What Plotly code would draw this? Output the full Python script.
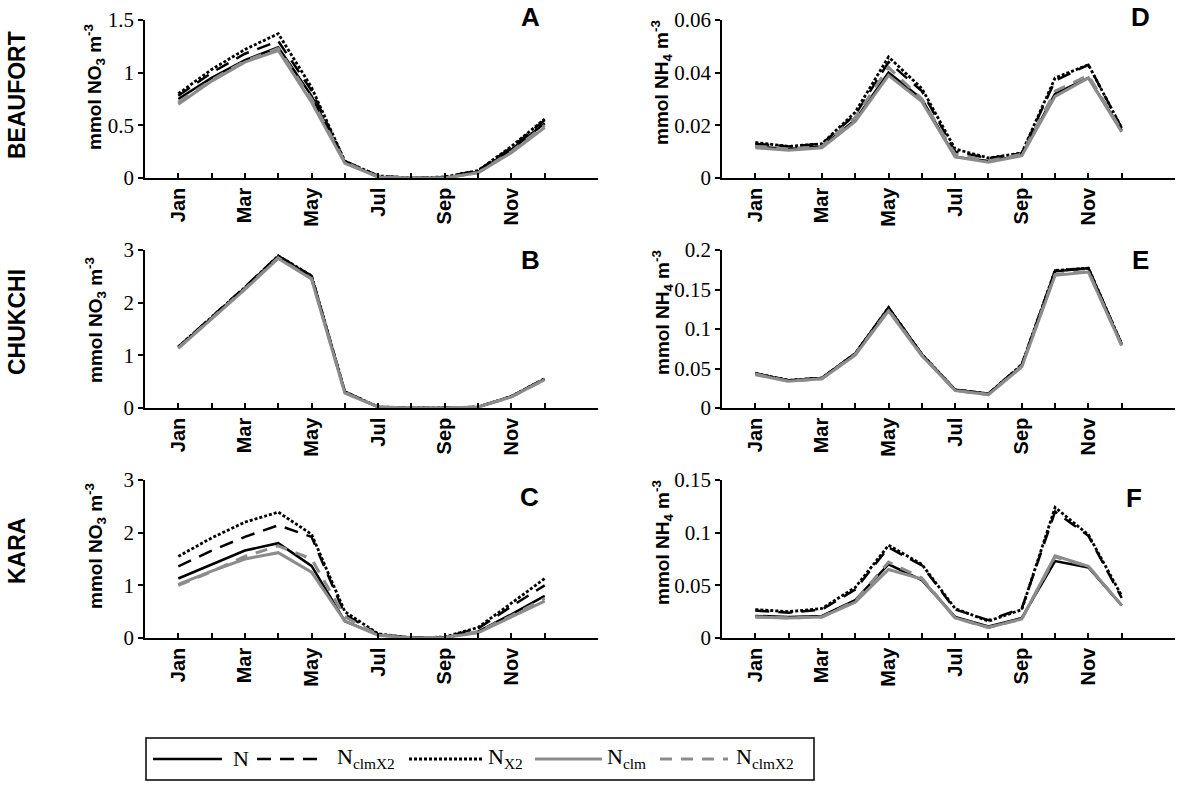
import plotly.graph_objects as go

# months on the x axis, only odd months get a label
months = [1, 2, 3, 4, 5, 6, 7, 8, 9, 10, 11, 12]
month_labels = ["Jan", "", "Mar", "", "May", "", "Jul", "", "Sep", "", "Nov", ""]

series_names = ["N", "N<sub>clmX2</sub>", "N<sub>X2</sub>", "N<sub>clm</sub>", "N<sub>clmX2</sub>"]

# A - Beaufort NO3
beaufort_no3_n = [0.75, 0.95, 1.12, 1.24, 0.78, 0.15, 0.01, 0.0, 0.0, 0.06, 0.27, 0.52]
beaufort_no3_clmx2 = [0.78, 1.00, 1.18, 1.30, 0.83, 0.16, 0.02, 0.0, 0.01, 0.07, 0.29, 0.55]
beaufort_no3_x2 = [0.80, 1.03, 1.22, 1.37, 0.86, 0.16, 0.02, 0.0, 0.01, 0.07, 0.30, 0.56]
beaufort_no3_clm = [0.70, 0.92, 1.10, 1.21, 0.72, 0.14, 0.01, 0.0, 0.0, 0.05, 0.24, 0.48]
beaufort_no3_clmx2_g = [0.72, 0.93, 1.11, 1.23, 0.75, 0.15, 0.01, 0.0, 0.0, 0.05, 0.25, 0.50]

# B - Chukchi NO3
chukchi_no3_n = [1.15, 1.72, 2.28, 2.88, 2.50, 0.30, 0.02, 0.0, 0.0, 0.02, 0.22, 0.55]
chukchi_no3_clmx2 = [1.16, 1.73, 2.30, 2.89, 2.51, 0.31, 0.02, 0.0, 0.0, 0.02, 0.22, 0.56]
chukchi_no3_x2 = [1.16, 1.73, 2.29, 2.89, 2.51, 0.31, 0.02, 0.0, 0.0, 0.02, 0.22, 0.56]
chukchi_no3_clm = [1.13, 1.69, 2.25, 2.84, 2.45, 0.28, 0.02, 0.0, 0.0, 0.02, 0.21, 0.54]
chukchi_no3_clmx2_g = [1.14, 1.70, 2.26, 2.85, 2.46, 0.29, 0.02, 0.0, 0.0, 0.02, 0.21, 0.54]

# C - Kara NO3
kara_no3_n = [1.13, 1.40, 1.66, 1.80, 1.37, 0.32, 0.06, 0.01, 0.01, 0.12, 0.45, 0.80]
kara_no3_clmx2 = [1.36, 1.66, 1.92, 2.14, 1.92, 0.45, 0.07, 0.0, 0.02, 0.18, 0.60, 1.00]
kara_no3_x2 = [1.55, 1.90, 2.20, 2.39, 1.97, 0.50, 0.08, 0.0, 0.02, 0.20, 0.66, 1.13]
kara_no3_clm = [1.02, 1.27, 1.50, 1.62, 1.25, 0.32, 0.05, 0.0, 0.01, 0.10, 0.40, 0.70]
kara_no3_clmx2_g = [1.00, 1.26, 1.55, 1.75, 1.50, 0.40, 0.06, 0.0, 0.01, 0.12, 0.42, 0.75]

# D - Beaufort NH4
beaufort_nh4_n = [0.012, 0.011, 0.012, 0.022, 0.040, 0.030, 0.008, 0.0065, 0.0085, 0.032, 0.038, 0.018]
beaufort_nh4_clmx2 = [0.013, 0.012, 0.013, 0.024, 0.044, 0.033, 0.010, 0.0075, 0.0094, 0.037, 0.043, 0.019]
beaufort_nh4_x2 = [0.0135, 0.012, 0.013, 0.025, 0.046, 0.034, 0.011, 0.0076, 0.0095, 0.038, 0.043, 0.019]
beaufort_nh4_clm = [0.0115, 0.0105, 0.0115, 0.0215, 0.039, 0.029, 0.008, 0.006, 0.0085, 0.031, 0.038, 0.0175]
beaufort_nh4_clmx2_g = [0.012, 0.011, 0.012, 0.023, 0.042, 0.030, 0.009, 0.0065, 0.009, 0.033, 0.039, 0.018]

# E - Chukchi NH4
chukchi_nh4_n = [0.043, 0.035, 0.038, 0.069, 0.127, 0.068, 0.023, 0.018, 0.054, 0.173, 0.177, 0.080]
chukchi_nh4_clmx2 = [0.044, 0.035, 0.038, 0.069, 0.127, 0.068, 0.023, 0.018, 0.055, 0.174, 0.177, 0.081]
chukchi_nh4_x2 = [0.044, 0.035, 0.038, 0.069, 0.127, 0.068, 0.023, 0.018, 0.055, 0.174, 0.177, 0.081]
chukchi_nh4_clm = [0.042, 0.034, 0.037, 0.067, 0.123, 0.066, 0.022, 0.017, 0.052, 0.168, 0.172, 0.079]
chukchi_nh4_clmx2_g = [0.043, 0.034, 0.037, 0.068, 0.124, 0.067, 0.022, 0.017, 0.053, 0.169, 0.173, 0.079]

# F - Kara NH4
kara_nh4_n = [0.021, 0.020, 0.021, 0.036, 0.070, 0.055, 0.020, 0.011, 0.019, 0.073, 0.067, 0.031]
kara_nh4_clmx2 = [0.026, 0.024, 0.027, 0.046, 0.086, 0.069, 0.027, 0.017, 0.028, 0.120, 0.097, 0.038]
kara_nh4_x2 = [0.027, 0.025, 0.028, 0.048, 0.088, 0.070, 0.028, 0.016, 0.027, 0.124, 0.098, 0.040]
kara_nh4_clm = [0.020, 0.019, 0.020, 0.034, 0.065, 0.056, 0.019, 0.010, 0.018, 0.078, 0.068, 0.031]
kara_nh4_clmx2_g = [0.020, 0.019, 0.020, 0.035, 0.072, 0.057, 0.019, 0.010, 0.018, 0.077, 0.068, 0.031]

panels = [
    ("", [beaufort_no3_n, beaufort_no3_clmx2, beaufort_no3_x2, beaufort_no3_clm, beaufort_no3_clmx2_g], 1.5, 0.5),
    ("2", [chukchi_no3_n, chukchi_no3_clmx2, chukchi_no3_x2, chukchi_no3_clm, chukchi_no3_clmx2_g], 3, 1),
    ("3", [kara_no3_n, kara_no3_clmx2, kara_no3_x2, kara_no3_clm, kara_no3_clmx2_g], 3, 1),
    ("4", [beaufort_nh4_n, beaufort_nh4_clmx2, beaufort_nh4_x2, beaufort_nh4_clm, beaufort_nh4_clmx2_g], 0.06, 0.02),
    ("5", [chukchi_nh4_n, chukchi_nh4_clmx2, chukchi_nh4_x2, chukchi_nh4_clm, chukchi_nh4_clmx2_g], 0.2, 0.05),
    ("6", [kara_nh4_n, kara_nh4_clmx2, kara_nh4_x2, kara_nh4_clm, kara_nh4_clmx2_g], 0.15, 0.05),
]

line_styles = [
    dict(color="black", width=2.5, dash="solid"),
    dict(color="black", width=2.5, dash="14px,9px"),
    dict(color="black", width=2.8, dash="3px,2px"),
    dict(color="#8c8c8c", width=3, dash="solid"),
    dict(color="#8c8c8c", width=3, dash="12px,9px"),
]

W, H = 1181, 785
left_x = (145 / W, 598 / W)
right_x = (722 / W, 1175 / W)
rows_y = [(1 - 178 / H, 1 - 20 / H), (1 - 408 / H, 1 - 250 / H), (1 - 638 / H, 1 - 480 / H)]

sans_bold = dict(family="Liberation Sans, Arial", color="black", weight="bold")
serif = "Liberation Serif, Times New Roman, serif"

fig = go.Figure()

for i, (suffix, series, ymax, dtick) in enumerate(panels):
    for j, vals in enumerate(series):
        fig.add_trace(go.Scatter(x=months, y=vals, mode="lines", name=series_names[j],
                                 line=line_styles[j], showlegend=False,
                                 xaxis="x" + suffix, yaxis="y" + suffix))
    xdom = left_x if i < 3 else right_x
    ydom = rows_y[i % 3]
    fig.layout["xaxis" + suffix] = dict(
        domain=xdom, range=[0, 13.6], anchor="y" + suffix, automargin=False,
        tickvals=months, ticktext=month_labels, tickangle=-90,
        ticks="inside", ticklen=5, tickcolor="black", tickwidth=1.5,
        showline=True, linecolor="black", linewidth=1.5, showgrid=False, zeroline=False,
        tickfont=dict(sans_bold, size=20))
    fig.layout["yaxis" + suffix] = dict(
        domain=ydom, range=[0, ymax], anchor="x" + suffix, dtick=dtick, tick0=0, automargin=False,
        ticks="outside", ticklen=5, tickcolor="black", tickwidth=1.5,
        showline=True, linecolor="black", linewidth=1.5, showgrid=False, zeroline=False,
        tickfont=dict(family=serif, size=21, color="black"))

annotations = []
# row labels
for label, yc in [("BEAUFORT", 95), ("CHUKCHI", 322), ("KARA", 551)]:
    annotations.append(dict(text=label, x=17 / W, y=1 - yc / H, xref="paper", yref="paper",
                            xanchor="center", yanchor="middle", textangle=-90, showarrow=False,
                            font=dict(sans_bold, size=23)))
# y axis titles
for txt, xc, yc in [("mmol NO<sub>3</sub> m<sup>-3</sup>", 95, 87),
                    ("mmol NO<sub>3</sub> m<sup>-3</sup>", 95, 320),
                    ("mmol NO<sub>3</sub> m<sup>-3</sup>", 95, 546),
                    ("mmol NH<sub>4</sub> m<sup>-3</sup>", 662, 83),
                    ("mmol NH<sub>4</sub> m<sup>-3</sup>", 662, 313),
                    ("mmol NH<sub>4</sub> m<sup>-3</sup>", 662, 543)]:
    annotations.append(dict(text=txt, x=xc / W, y=1 - yc / H, xref="paper", yref="paper",
                            xanchor="center", yanchor="middle", textangle=-90, showarrow=False,
                            font=dict(sans_bold, size=19)))
# panel letters
for letter, xc, yc in [("A", 530, 17), ("B", 530, 260), ("C", 529, 497),
                       ("D", 1140, 17), ("E", 1140, 260), ("F", 1134, 498)]:
    annotations.append(dict(text=letter, x=xc / W, y=1 - yc / H, xref="paper", yref="paper",
                            xanchor="center", yanchor="middle", showarrow=False,
                            font=dict(sans_bold, size=26)))

# legend box drawn by hand so the line samples can be long
shapes = [dict(type="rect", xref="paper", yref="paper", x0=146 / W, x1=814 / W,
               y0=1 - 780 / H, y1=1 - 738 / H, line=dict(color="black", width=1.5))]
legend_lines = [(153, 222), (257, 326), (409, 483), (535, 602), (660, 728)]
legend_text_x = [231, 335, 486, 605, 734]
for j, (x0, x1) in enumerate(legend_lines):
    shapes.append(dict(type="line", xref="paper", yref="paper", x0=x0 / W, x1=x1 / W,
                       y0=1 - 759 / H, y1=1 - 759 / H, line=line_styles[j]))
    annotations.append(dict(text=series_names[j], x=legend_text_x[j] / W, y=1 - 758 / H,
                            xref="paper", yref="paper", xanchor="left", yanchor="middle",
                            showarrow=False, font=dict(family=serif, size=22, color="black")))

fig.update_layout(
    width=W, height=H,
    margin=dict(l=0, r=0, t=0, b=0, autoexpand=False),
    paper_bgcolor="white", plot_bgcolor="white",
    showlegend=False,
    annotations=annotations,
    shapes=shapes,
)

# drop the default page margin so the figure sits at the window corner
fig.write_html("out.html", config={"displayModeBar": False},
               post_script="document.body.style.margin = '0';")
